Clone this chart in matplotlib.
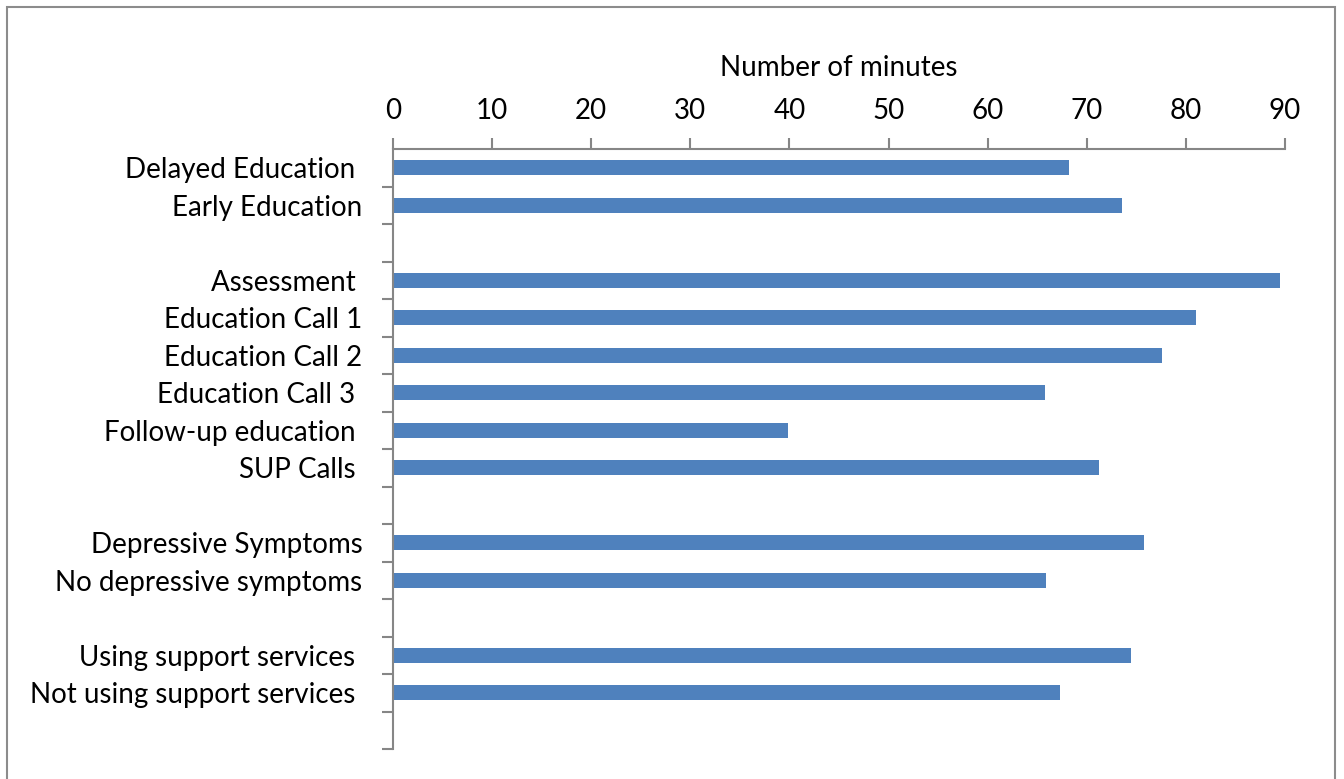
import numpy as np
import matplotlib
matplotlib.use("Agg")
import matplotlib.pyplot as plt
from matplotlib.patches import Rectangle

categories = ["Delayed Education ", "Early Education", "",
              "Assessment ", "Education Call 1", "Education Call 2", "Education Call 3 ",
              "Follow-up education ", "SUP Calls ", "",
              "Depressive Symptoms", "No depressive symptoms", "",
              "Using support services ", "Not using support services ", ""]
minutes = [68.2, 73.6, np.nan,
           89.5, 81.0, 77.6, 65.8, 39.9, 71.2, np.nan,
           75.8, 65.9, np.nan,
           74.5, 67.3, np.nan]
x_ticks = [0, 10, 20, 30, 40, 50, 60, 70, 80, 90]
x_label = "Number of minutes"

plt.rcParams['font.family'] = ['Lato', 'DejaVu Sans']
fig = plt.figure(figsize=(13.44, 7.79), dpi=100)
ax = fig.add_axes([393/1344, 1-749/779, 892/1344, 600/779])

pos = np.arange(len(categories))
vals = np.array(minutes, dtype=float)
mask = ~np.isnan(vals)
ax.barh(pos[mask], vals[mask], height=0.4, color="#4F81BD")

ax.set_xlim(0, 90)
ax.set_ylim(len(categories) - 0.5, -0.5)
ax.xaxis.tick_top()
ax.xaxis.set_label_position("top")
ax.set_xticks(x_ticks)
ax.set_xticklabels([str(t) for t in x_ticks], fontsize=20)
ax.set_xlabel(x_label, fontsize=20, labelpad=16)
ax.tick_params(axis='x', direction='out', length=8, width=1.5, color="#868686", pad=10)

# major ticks at row boundaries, labels at row centers
ax.set_yticks(np.arange(len(categories)) + 0.5)
ax.set_yticklabels([])
ax.set_yticks(pos, minor=True)
ax.set_yticklabels(categories, minor=True, fontsize=20)
ax.tick_params(axis='y', which='major', direction='out', length=8, width=1.5, color="#868686")
ax.tick_params(axis='y', which='minor', length=0, pad=22)

for s in ['right', 'bottom']:
    ax.spines[s].set_visible(False)
for s in ['left', 'top']:
    ax.spines[s].set_color("#868686")
    ax.spines[s].set_linewidth(1.5)

fig.patches.append(Rectangle((7/1344, -0.02), (1335-7)/1344, 1.02 - 7/779,
                             transform=fig.transFigure, fill=False,
                             edgecolor="#8c8c8c", linewidth=1.5))

fig.savefig("out.png", dpi=100)
